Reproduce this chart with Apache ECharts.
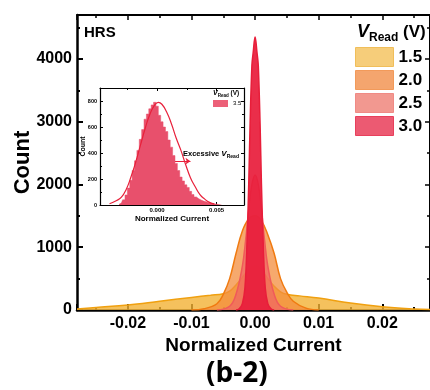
<!DOCTYPE html>
<html><head><meta charset="utf-8">
<script src="https://cdn.jsdelivr.net/npm/echarts@6/dist/echarts.min.js"></script>
<style>html,body{margin:0;padding:0;background:#fff}#c{width:430px;height:390px}</style>
</head><body><div id="c"></div>
<script>
const FONT = 'Arial, "Liberation Sans", sans-serif';
// Main chart data (Normalized Current vs Count)
const vReadNames = ['1.5', '2.0', '2.5', '3.0'];
const x15 = [-0.028,-0.025,-0.020,-0.015,-0.010,-0.007,-0.005,-0.004,-0.003,-0.002,-0.001,0,0.001,0.002,0.003,0.004,0.005,0.007,0.010,0.015,0.020,0.025,0.0275];
const y15 = [15,40,80,140,200,235,260,300,400,520,640,700,640,500,380,290,250,225,190,110,52,16,6];
const x20 = [-0.010,-0.008,-0.006,-0.005,-0.004,-0.003,-0.002,-0.001,0,0.001,0.002,0.003,0.004,0.005,0.006,0.008,0.010];
const y20 = [0,20,100,250,500,900,1260,1450,1500,1420,1200,900,500,280,140,30,0];
const x25 = [-0.006,-0.004,-0.003,-0.002,-0.0015,-0.001,-0.0005,0,0.0005,0.001,0.0015,0.002,0.003,0.004,0.006];
const y25 = [0,60,250,700,1100,1600,2000,2150,2000,1600,1100,700,250,60,0];
const x30 = [-0.003,-0.0025,-0.002,-0.0016,-0.0013,-0.001,-0.0008,-0.0005,-0.0003,0,0.0003,0.0005,0.0008,0.001,0.0013,0.0016,0.002,0.0025,0.003];
const y30 = [0,20,100,350,1000,2000,2900,3900,4100,4350,4100,3900,2900,2000,1000,350,100,20,0];
// Inset histogram (V_Read = 3.5 V)
const insetBinX = [-0.0032,-0.0030,-0.0028,-0.0026,-0.0024,-0.0022,-0.0020,-0.0018,-0.0016,-0.0014,-0.0012,-0.0010,-0.0008,-0.0006,-0.0004,-0.0002,0.0000,0.0002,0.0004,0.0006,0.0008,0.0010,0.0012,0.0014,0.0016,0.0018,0.0020,0.0022,0.0024,0.0026,0.0028,0.0030,0.0032,0.0034,0.0036,0.0038,0.0040,0.0042,0.0044,0.0046,0.0048,0.0050,0.0052,0.0054];
const insetBinY = [5,15,40,77,130,190,265,340,420,505,580,660,700,740,770,790,760,690,640,600,565,500,445,380,320,265,215,185,155,135,105,80,62,48,38,30,25,20,15,11,8,5,3,2];
const fitX = [-0.0040,-0.0034,-0.0030,-0.0026,-0.0022,-0.0018,-0.0014,-0.0010,-0.0006,-0.0002,0.0001,0.0004,0.0008,0.0012,0.0016,0.0020,0.0024,0.0028,0.0032,0.0036,0.0040,0.0044,0.0048];
const fitY = [10,35,60,120,215,330,460,590,700,770,790,775,715,625,515,420,310,210,140,80,45,20,8];
// Axis ranges / tick values
const mainX = {min: -0.028, max: 0.0275};
const mainY = {min: 0, max: 4700, interval: 1000};
const insetXR = {min: -0.0048, max: 0.0073};
const insetYR = {min: 0, max: 900, interval: 200};

const zip = (xs, ys) => xs.map((x, i) => [x, ys[i]]);

const legendColors = ['#F6CD7A', '#F4A56E', '#F29890', '#EC5A72'];
const legendBorders = ['#F0BE5A', '#F29A5A', '#F08A85', '#E8405C'];
const areaColors = ['rgba(242,178,52,0.8)', 'rgba(243,140,60,0.75)', 'rgba(240,100,100,0.7)', 'rgba(232,30,60,0.93)'];
const lineColors = ['#F0A010', '#F07A10', '#F05A5A', '#E81E3A'];
const mainData = [zip(x15, y15), zip(x20, y20), zip(x25, y25), zip(x30, y30)];

const chart = echarts.init(document.getElementById('c'), null, {renderer: 'canvas'});

const axBase = (w) => ({
  axisLine: {show: true, onZero: false, lineStyle: {color: '#000', width: w}},
  splitLine: {show: false},
  nameMoveOverlap: false
});

const option = {
  animation: false,
  backgroundColor: '#fff',
  textStyle: {fontFamily: FONT},
  grid: [
    {left: 77, top: 15, right: 0, bottom: 80, show: false, containLabel: false, outerBoundsMode: 'none'},
    {left: 100, top: 88, width: 144, height: 117, show: true, backgroundColor: '#fff', borderWidth: 0, containLabel: false, outerBoundsMode: 'none'}
  ],
  xAxis: [
    Object.assign(axBase(2.5), {type: 'value', gridIndex: 0, position: 'bottom', min: mainX.min, max: mainX.max, splitNumber: 5,
      name: 'Normalized Current', nameLocation: 'middle', nameGap: 26,
      nameTextStyle: {fontFamily: FONT, fontWeight: 'bold', fontSize: 19, color: '#000'},
      axisTick: {show: true, inside: true, length: 6, lineStyle: {width: 2, color: '#000'}},
      minorTick: {show: true, splitNumber: 2, length: 3, lineStyle: {width: 2, color: '#000'}},
      axisLabel: {showMinLabel: false, showMaxLabel: false, margin: 6, fontFamily: FONT, fontWeight: 'bold', fontSize: 16, color: '#000', formatter: v => v.toFixed(2)}}),
    Object.assign(axBase(2), {type: 'value', gridIndex: 0, position: 'top', min: mainX.min, max: mainX.max, splitNumber: 5,
      axisTick: {show: true, inside: true, length: 5, lineStyle: {width: 1.5, color: '#000'}},
      minorTick: {show: true, splitNumber: 2, length: 3, lineStyle: {width: 1.5, color: '#000'}},
      axisLabel: {show: false}}),
    Object.assign(axBase(1.2), {type: 'value', gridIndex: 1, position: 'bottom', min: insetXR.min, max: insetXR.max, splitNumber: 2,
      name: 'Normalized Current', nameLocation: 'middle', nameGap: 10,
      nameTextStyle: {fontFamily: FONT, fontWeight: 'bold', fontSize: 8, color: '#000'},
      axisTick: {show: true, inside: true, length: 3, lineStyle: {width: 1, color: '#000'}},
      minorTick: {show: true, splitNumber: 2, length: 2, lineStyle: {width: 1, color: '#000'}},
      axisLabel: {showMinLabel: false, showMaxLabel: false, margin: 2, fontFamily: FONT, fontWeight: 'bold', fontSize: 6, color: '#000', formatter: v => v.toFixed(3)}}),
    Object.assign(axBase(1.2), {type: 'value', gridIndex: 1, position: 'top', min: insetXR.min, max: insetXR.max, splitNumber: 2,
      axisTick: {show: true, inside: true, length: 3, lineStyle: {width: 1, color: '#000'}},
      minorTick: {show: true, splitNumber: 2, length: 2, lineStyle: {width: 1, color: '#000'}},
      axisLabel: {show: false}})
  ],
  yAxis: [
    Object.assign(axBase(2.5), {type: 'value', gridIndex: 0, position: 'left', min: mainY.min, max: mainY.max, interval: mainY.interval,
      name: 'Count', nameLocation: 'middle', nameGap: 43, nameRotate: 90,
      nameTextStyle: {fontFamily: FONT, fontWeight: 'bold', fontSize: 22, color: '#000'},
      axisTick: {show: true, inside: true, length: 6, lineStyle: {width: 2, color: '#000'}},
      minorTick: {show: true, splitNumber: 2, length: 3, lineStyle: {width: 2, color: '#000'}},
      axisLabel: {showMaxLabel: false, margin: 5, fontFamily: FONT, fontWeight: 'bold', fontSize: 16, color: '#000', formatter: v => String(v)}}),
    Object.assign(axBase(2), {type: 'value', gridIndex: 0, position: 'right', min: mainY.min, max: mainY.max, interval: mainY.interval,
      axisTick: {show: true, inside: true, length: 5, lineStyle: {width: 1.5, color: '#000'}},
      minorTick: {show: true, splitNumber: 2, length: 3, lineStyle: {width: 1.5, color: '#000'}},
      axisLabel: {show: false}}),
    Object.assign(axBase(1.2), {type: 'value', gridIndex: 1, position: 'left', min: insetYR.min, max: insetYR.max, interval: insetYR.interval,
      name: 'Count', nameLocation: 'middle', nameGap: 13, nameRotate: 90,
      nameTextStyle: {fontFamily: FONT, fontWeight: 'bold', fontSize: 7, color: '#000'},
      axisTick: {show: true, inside: true, length: 3, lineStyle: {width: 1, color: '#000'}},
      minorTick: {show: true, splitNumber: 2, length: 2, lineStyle: {width: 1, color: '#000'}},
      axisLabel: {showMaxLabel: false, margin: 3, fontFamily: FONT, fontWeight: 'bold', fontSize: 5.5, color: '#000', formatter: v => String(v)}}),
    Object.assign(axBase(1.2), {type: 'value', gridIndex: 1, position: 'right', min: insetYR.min, max: insetYR.max, interval: insetYR.interval,
      axisTick: {show: true, inside: true, length: 3, lineStyle: {width: 1, color: '#000'}},
      minorTick: {show: true, splitNumber: 2, length: 2, lineStyle: {width: 1, color: '#000'}},
      axisLabel: {show: false}})
  ],
  legend: [
    {data: vReadNames, orient: 'vertical', left: 355, top: 47, padding: 0, itemWidth: 38, itemHeight: 19, itemGap: 3, icon: 'rect',
      itemStyle: {borderWidth: 1}, selectedMode: false,
      textStyle: {fontFamily: FONT, fontWeight: 'bold', fontSize: 17, color: '#000'}},
    {data: ['3.5'], orient: 'vertical', left: 213, top: 100, padding: 0, itemWidth: 15, itemHeight: 7, icon: 'rect', selectedMode: false, itemGap: 2,
      textStyle: {fontFamily: FONT, fontSize: 6, color: '#000'}, z: 10}
  ],
  graphic: [
    {type: 'text', left: 84, top: 25, style: {text: 'HRS', font: 'bold 15px ' + FONT, fill: '#000'}},
    {type: 'text', left: 357, top: 23, style: {text: '{v|V}{s|Read}{p| (V)}', rich: {
      v: {fontFamily: FONT, fontStyle: 'italic', fontWeight: 'bold', fontSize: 18, fill: '#000', verticalAlign: 'bottom'},
      s: {fontFamily: FONT, fontWeight: 'bold', fontSize: 12, fill: '#000', verticalAlign: 'bottom', padding: [0, 0, -3, 0]},
      p: {fontFamily: FONT, fontWeight: 'bold', fontSize: 17, fill: '#000', verticalAlign: 'bottom'}}}},
    {type: 'text', left: 213, top: 90, z: 20, style: {text: '{v|V}{s|Read}{p| (V)}', rich: {
      v: {fontFamily: FONT, fontStyle: 'italic', fontWeight: 'bold', fontSize: 7, fill: '#000', verticalAlign: 'bottom'},
      s: {fontFamily: FONT, fontWeight: 'bold', fontSize: 4.5, fill: '#000', verticalAlign: 'bottom', padding: [0, 0, -1, 0]},
      p: {fontFamily: FONT, fontWeight: 'bold', fontSize: 6.5, fill: '#000', verticalAlign: 'bottom'}}}},
    {type: 'text', left: 183, top: 150, z: 20, style: {text: '{p|Excessive }{v|V}{s|Read}', rich: {
      v: {fontFamily: FONT, fontStyle: 'italic', fontWeight: 'bold', fontSize: 8, fill: '#000', verticalAlign: 'bottom'},
      s: {fontFamily: FONT, fontWeight: 'bold', fontSize: 5, fill: '#000', verticalAlign: 'bottom', padding: [0, 0, -1, 0]},
      p: {fontFamily: FONT, fontWeight: 'bold', fontSize: 7.5, fill: '#000', verticalAlign: 'bottom'}}}},
    {type: 'text', left: 206, top: 360, style: {text: '(b-2)', font: 'bold 28px "Open Sans", ' + FONT, fill: '#000'}}
  ],
  series: [
    ...vReadNames.map((n, i) => ({
      name: n, type: 'line', xAxisIndex: 0, yAxisIndex: 0, data: mainData[i], smooth: 0.4, showSymbol: false, symbol: 'none',
      itemStyle: {color: legendColors[i], borderColor: legendBorders[i]},
      lineStyle: {color: lineColors[i], width: 1.5},
      areaStyle: {color: areaColors[i], opacity: 1}, z: 2 + i
    })),
    {name: '3.5', type: 'line', step: 'middle', xAxisIndex: 2, yAxisIndex: 2, data: zip(insetBinX, insetBinY), showSymbol: false, symbol: 'none',
      itemStyle: {color: '#EC6078', borderColor: '#E8405C'}, lineStyle: {color: '#E8506C', width: 0.5},
      areaStyle: {color: '#E8506C', opacity: 1}, z: 10},
    {name: 'fit', type: 'line', xAxisIndex: 2, yAxisIndex: 2, data: zip(fitX, fitY), smooth: true, showSymbol: false, symbol: 'none',
      lineStyle: {color: '#E8203A', width: 1.2}, z: 11,
      markLine: {silent: true, symbol: ['none', 'arrow'], symbolSize: 5, label: {show: false},
        lineStyle: {color: '#E8203A', width: 1, type: 'solid'},
        data: [[{coord: [0.0000, 337]}, {coord: [0.0028, 337]}]]}}
  ]
};
chart.setOption(option);
</script></body></html>
